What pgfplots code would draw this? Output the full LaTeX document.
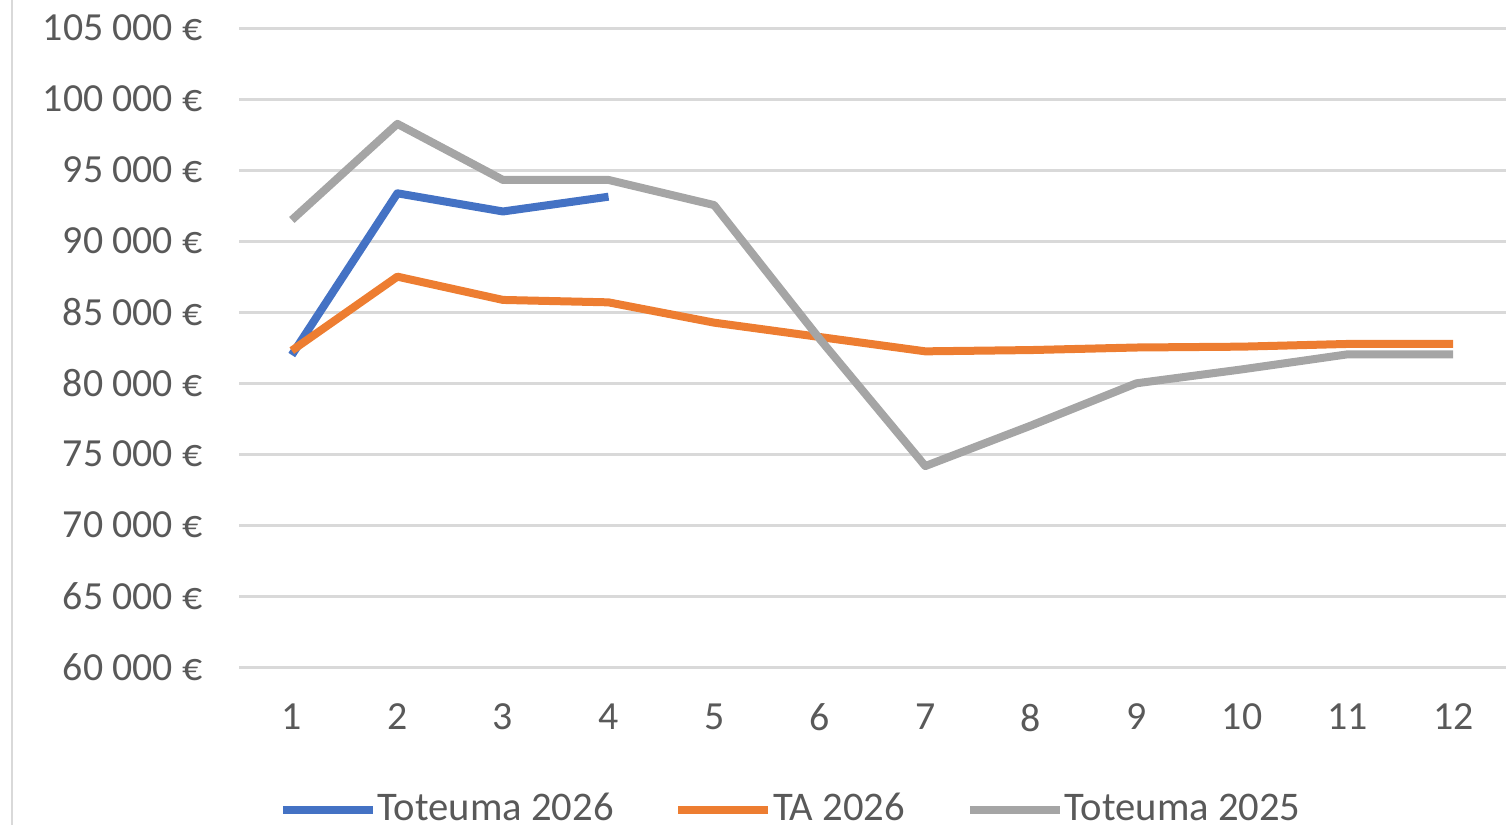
\documentclass[border=0pt]{standalone}
\usepackage{fontspec}
\setmainfont{Carlito}
\usepackage{pgfplots}
\pgfplotsset{compat=1.18}
\definecolor{cblue}{HTML}{4472C4}
\definecolor{corange}{HTML}{ED7D31}
\definecolor{cgray}{HTML}{A5A5A5}
\definecolor{gridgray}{HTML}{D9D9D9}
\definecolor{txt}{HTML}{595959}
\begin{document}
\begin{tikzpicture}
\begin{axis}[
  scale only axis, width=316.75bp, height=159.75bp,
  xmin=0.5, xmax=12.5, ymin=60000, ymax=105000,
  scaled y ticks=false,
  axis line style={draw=none},
  major tick length=0pt,
  ymajorgrids, grid style={line width=0.75bp, color=gridgray},
  ytick={60000,65000,70000,75000,80000,85000,90000,95000,100000,105000},
  yticklabels={60 000 €,65 000 €,70 000 €,75 000 €,80 000 €,85 000 €,90 000 €,95 000 €,100 000 €,105 000 €},
  xtick={1,2,3,4,5,6,7,8,9,10,11,12},
  xticklabels={1,2,3,4,5,6,7,8,9,10,11,12},
  ticklabel style={font=\fontsize{10}{12}\selectfont, text=txt, inner sep=0pt},
  yticklabel style={anchor=east, xshift=-9bp},
  xticklabel style={anchor=north, yshift=-9bp},
  clip=false,
  legend columns=3,
  legend style={at={(rel axis cs:0.435,0)}, yshift=-35.75bp, anchor=center, draw=none, fill=none,
    font=\fontsize{10.2}{12}\selectfont, text=txt, inner sep=0pt,
    nodes={inner sep=0.2bp},
    /tikz/every even column/.append style={column sep=15bp}},
  legend image code/.code={\draw[#1, line width=2bp, line cap=butt] (0bp,0bp) -- (22.5bp,0bp);},
  every axis plot/.append style={line width=2bp, line join=round, line cap=butt},
]
\addplot[cblue] coordinates {(1,81970) (2,93360) (3,92080) (4,93120)};
\addlegendentry{Toteuma 2026}
\addplot[corange] coordinates {(1,82280) (2,87490) (3,85850) (4,85680) (5,84250) (6,83240) (7,82230) (8,82320) (9,82500) (10,82560) (11,82750) (12,82750)};
\addlegendentry{TA 2026}
\addplot[cgray] coordinates {(1,91480) (2,98250) (3,94300) (4,94300) (5,92530) (6,83100) (7,74150) (8,77000) (9,79980) (10,80960) (11,82020) (12,82020)};
\addlegendentry{Toteuma 2025}
\end{axis}
\draw[gridgray, line width=0.5bp] (-56.75bp,-39.5bp) -- (-56.75bp,166.75bp);
\pgfresetboundingbox
\path (-59.75bp,-39.5bp) rectangle (316.75bp,166.75bp);
\end{tikzpicture}
\end{document}
